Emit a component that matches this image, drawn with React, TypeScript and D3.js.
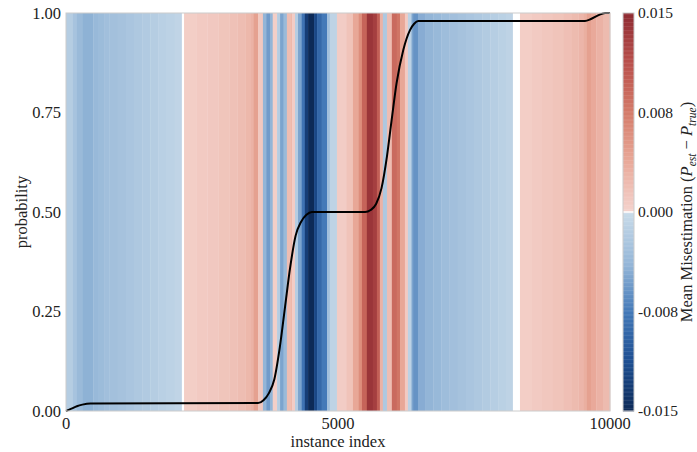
import React from "react";
import * as d3 from "d3";

// ---- data ----
const stripeStarts = [
  0, 120, 200, 310, 500, 600, 700, 800, 950, 1100, 1250, 1400, 1550, 1700, 1850, 2000, 2130, 2170,
  2400, 2600, 2800, 3000, 3150, 3300, 3400, 3450,
  3530, 3620, 3680, 3750, 3800, 3880, 3935, 4000, 4060, 4120, 4155, 4210, 4265, 4330, 4390, 4450, 4560,
  4615, 4700, 4800, 4850, 4980, 5150, 5275, 5380, 5440, 5530, 5640, 5715, 5770, 5825, 5900, 5990, 6080,
  6140, 6230, 6285, 6350, 6380, 6470, 6600, 6750, 6900, 7050, 7200, 7350, 7500, 7650, 7800, 7950, 8100,
  8215, 8345, 8550, 8750, 8950, 9150, 9300, 9420, 9520, 9575, 9650, 9750, 9870,
];
const stripeValues = [
  -0.0015, -0.0025, -0.0035, -0.0042, -0.0036, -0.0033, -0.003, -0.0028, -0.0026, -0.0023, -0.002, -0.0018,
  -0.0015, -0.0012, -0.001, -0.0007, 0, 0.0005,
  0.0008, 0.001, 0.0013, 0.0016, 0.002, 0.0025, 0.003, 0.0045,
  0.001, -0.004, -0.0055, -0.004, 0.0004, -0.0015, -0.005, -0.0035, 0.002, 0.0025, 0.0006, -0.0015, -0.005,
  -0.008, -0.013, -0.015, -0.012,
  -0.009, -0.0075, -0.003, -0.0008, 0.0006, 0.0015, 0.004, 0.006, 0.0095, 0.014, 0.013, 0.01, 0.003, -0.002,
  0.002, 0.009, 0.008,
  0.004, 0.0008, -0.001, -0.005, -0.006, -0.0045, -0.004, -0.0036, -0.0032, -0.0029, -0.0026, -0.0023,
  -0.002, -0.0017, -0.0014, -0.0011, -0.0008,
  0, 0.0005, 0.0008, 0.0011, 0.0014, 0.0018, 0.0022, 0.0027, 0.0033, 0.0045, 0.0038, 0.003, 0.0022,
];
const totalInstances = 10000;

const curveX = [0, 100, 200, 300, 450, 3530, 3630, 3730, 3830, 3930, 4025, 4120, 4220, 4320, 4420, 4520, 5500, 5600, 5700, 5800, 5900, 5985, 6076, 6200, 6323, 6400, 6476, 9540, 9650, 9780, 9910, 10000];
const curveY = [0, 0.006, 0.012, 0.016, 0.019, 0.02, 0.027, 0.045, 0.08, 0.16, 0.26, 0.36, 0.44, 0.475, 0.493, 0.5, 0.5, 0.505, 0.52, 0.56, 0.64, 0.73, 0.823, 0.907, 0.957, 0.973, 0.98, 0.98, 0.985, 0.994, 1.0, 1.0];

const xTicks = [0, 5000, 10000];
const yTicks = [0, 0.25, 0.5, 0.75, 1.0];
const cbarTicks = [-0.015, -0.0075, 0, 0.0075, 0.015];
const cbarTickLabels = ["-0.015", "-0.008", "0.000", "0.008", "0.015"];

const negStops = [-0.015, -0.0113, -0.0075, -0.004, 0];
const negColors = ["#0d2a57", "#1d4e91", "#4479b8", "#93b5d7", "#c9dbe9"];
const posStops = [0, 0.004, 0.0075, 0.0113, 0.015];
const posColors = ["#f4d3cd", "#e8a797", "#d47b69", "#b9504c", "#8e2b32"];

// ---- layout ----
const W = 697, H = 452;
const L = 66, R = 610, T = 13, B = 411;
const CBL = 623, CBR = 634;
const FONT = "'Liberation Serif', 'DejaVu Serif', serif";
const FS = 16.5;

const negScale = d3.scaleLinear<string>().domain(negStops).range(negColors).interpolate(d3.interpolateRgb).clamp(true);
const posScale = d3.scaleLinear<string>().domain(posStops).range(posColors).interpolate(d3.interpolateRgb).clamp(true);
const colorOf = (v: number) => (v === 0 ? "#ffffff" : v < 0 ? negScale(v) : posScale(v));

export default function App() {
  const x = d3.scaleLinear().domain([0, totalInstances]).range([L, R]);
  const y = d3.scaleLinear().domain([0, 1]).range([B, T]);
  const cy = d3.scaleLinear().domain([-0.015, 0.015]).range([B, T]);

  const stripes = stripeStarts.map((s, i) => {
    const e = i + 1 < stripeStarts.length ? stripeStarts[i + 1] : totalInstances;
    return { s, e, v: stripeValues[i] };
  });

  const line = d3
    .line<number>()
    .x((_, i) => x(curveX[i]))
    .y((d) => y(d))
    .curve(d3.curveMonotoneX);

  const nCb = 300;
  const cbVals = d3.range(nCb).map((i) => -0.015 + (0.03 * (i + 0.5)) / nCb);

  const fmt2 = d3.format(".2f");

  return (
    <>
      <style>{"body{margin:0}"}</style>
      <svg width={W} height={H} style={{ display: "block", fontFamily: FONT }}>
        <rect width={W} height={H} fill="#fff" />
        {stripes.map((st, i) => (
          <rect key={i} x={x(st.s)} y={T} width={x(st.e) - x(st.s) + 0.3} height={B - T} fill={colorOf(st.v)} />
        ))}
        <path d={line(curveY) || ""} fill="none" stroke="#000" strokeWidth={2} />
        <rect x={L} y={T} width={R - L} height={B - T} fill="none" stroke="#cccccc" strokeWidth={1} />

        {yTicks.map((t) => (
          <text key={t} x={L - 5} y={y(t)} dy="0.35em" textAnchor="end" fontSize={FS} fill="#222">
            {fmt2(t)}
          </text>
        ))}
        {xTicks.map((t) => (
          <text key={t} x={x(t)} y={B + 18} textAnchor="middle" fontSize={FS} fill="#222">
            {t}
          </text>
        ))}
        <text x={(L + R) / 2} y={B + 36} textAnchor="middle" fontSize={FS} fill="#222">
          instance index
        </text>
        <text transform={`translate(27,${(T + B) / 2}) rotate(-90)`} textAnchor="middle" fontSize={FS} fill="#222">
          probability
        </text>

        {cbVals.map((v, i) => (
          <rect key={i} x={CBL} y={cy(v + 0.015 / nCb)} width={CBR - CBL} height={(B - T) / nCb + 0.4} fill={colorOf(v)} />
        ))}
        <line x1={CBL} x2={CBR} y1={cy(0)} y2={cy(0)} stroke="#fff" strokeWidth={1.5} />
        <rect x={CBL} y={T} width={CBR - CBL} height={B - T} fill="none" stroke="#cccccc" strokeWidth={1} />
        {cbarTicks.map((t, i) => (
          <text key={t} x={CBR + 4} y={cy(t)} dy="0.35em" textAnchor="start" fontSize={15.5} fill="#222">
            {cbarTickLabels[i]}
          </text>
        ))}
        <text transform={`translate(692,${(T + B) / 2}) rotate(-90)`} textAnchor="middle" fontSize={FS} fill="#222">
          Mean Misestimation (<tspan fontStyle="italic">P</tspan>
          <tspan fontStyle="italic" fontSize={11.5} dy={3.5}>est</tspan>
          <tspan dy={-3.5}> − </tspan>
          <tspan fontStyle="italic">P</tspan>
          <tspan fontStyle="italic" fontSize={11.5} dy={3.5}>true</tspan>
          <tspan dy={-3.5}>)</tspan>
        </text>
      </svg>
    </>
  );
}
